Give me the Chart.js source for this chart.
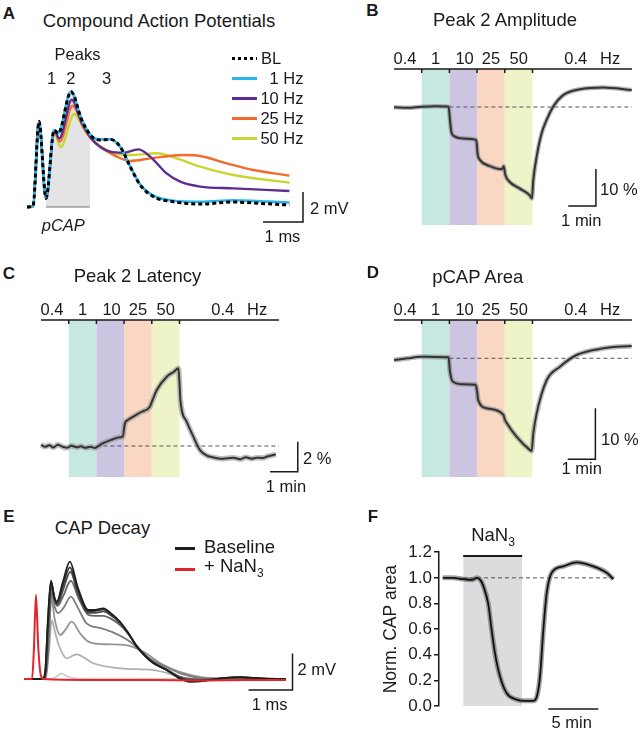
<!DOCTYPE html>
<html>
<head>
<meta charset="utf-8">
<title>CAP figure</title>
<script src="https://cdn.jsdelivr.net/npm/chart.js@4.4.1/dist/chart.umd.min.js"></script>
<style>
  body { margin: 0; background: #fff; }
  #fig { position: relative; width: 640px; height: 733px; overflow: hidden; font-family: "Liberation Sans", Arial, Helvetica, sans-serif; color: #1a1a1a; }
  #fig canvas { position: absolute; }
  .lb { position: absolute; white-space: nowrap; line-height: 1; font-size: 16.5px; }
  .c { transform: translate(-50%, -50%); }
  .l { transform: translate(0, -50%); }
  .r { transform: translate(-100%, -50%); }
  .ttl { font-size: 18.5px; }
  .pl { font-size: 17px; font-weight: bold; }
  .key { position: absolute; height: 3px; }
  sub { font-size: 0.65em; vertical-align: -0.35em; }
</style>
</head>
<body>
<div id="fig"></div>
<script>
// ---- Panel A: compound action potentials (ms, mV)
const capBL   = [[0,0],[0.15,0.05],[0.3,5.7],[0.475,0.58],[0.68,5.13],[0.78,4.91],[1.1,7.69],[1.37,5.8],[1.62,4.69],[1.83,4.47],[2.08,4.51],[2.33,4.02],[2.58,2.69],[2.83,1.47],[3.16,0.69],[3.66,0.35],[4.33,0.2],[5.16,0.33],[5.83,0.24],[6.56,0.13]];
const cap1Hz  = [[0,0],[0.15,0.05],[0.3,5.7],[0.475,0.58],[0.68,5.13],[0.78,4.93],[1.1,7.7],[1.37,5.8],[1.62,4.7],[1.83,4.5],[2.08,4.52],[2.33,4.0],[2.58,2.7],[2.83,1.5],[3.16,0.75],[3.66,0.42],[4.33,0.35],[5.16,0.45],[5.83,0.38],[6.56,0.3]];
const cap10Hz = [[0,0],[0.15,0.05],[0.3,5.7],[0.475,0.58],[0.68,5.1],[0.81,4.58],[1.12,7.15],[1.37,5.6],[1.6,4.6],[1.83,4.0],[2.08,3.69],[2.41,3.62],[2.78,3.84],[3.08,3.36],[3.49,2.24],[3.83,1.69],[4.33,1.36],[5.16,1.24],[6.56,1.07]];
const cap25Hz = [[0,0],[0.15,0.05],[0.3,5.7],[0.475,0.58],[0.68,5.05],[0.82,4.36],[1.14,6.75],[1.4,5.4],[1.6,4.55],[1.83,4.02],[2.24,3.36],[2.58,3.07],[3.08,3.24],[3.91,3.47],[4.33,3.4],[4.99,2.91],[5.66,2.47],[6.56,2.09]];
const cap50Hz = [[0,0],[0.15,0.05],[0.3,5.7],[0.475,0.58],[0.68,5.0],[0.84,3.98],[1.18,6.2],[1.42,5.2],[1.62,4.5],[1.83,4.07],[2.24,3.53],[2.66,3.47],[3.24,3.58],[3.74,3.24],[4.33,2.69],[5.16,2.13],[6.56,1.62]];
const pcapWindow = [0.475, 1.575];
const capLegend = ["BL", "1 Hz", "10 Hz", "25 Hz", "50 Hz"];

// ---- Panels B-D: stimulation protocol (min)
const bandEdges  = [1, 2, 3, 4, 5];
const bandColors = ["#c6e8e1", "#cbc5e1", "#f9d7c3", "#eef3c8"];
const freqText   = ["0.4", "1", "10", "25", "50", "0.4", "Hz"];
const freqPos    = [0.4, 1.5, 2.55, 3.5, 4.5, 6.56, 7.8];

// B: peak 2 amplitude (% of baseline)
const peak2Amp = [[0,99.9],[0.5,99.8],[1,100.1],[1.5,100.2],[1.97,100.1],[2.02,96.5],[2.07,93.3],[2.16,92.2],[2.5,91.5],[2.97,91.1],[3.02,87.2],[3.1,85.7],[3.44,84.1],[3.9,83.2],[3.96,84.0],[4.02,81.6],[4.17,79.8],[4.53,78],[4.89,76.2],[4.98,75.3],[5.03,80.3],[5.15,86.6],[5.33,92.9],[5.51,96.5],[5.75,100.1],[6.11,103.2],[6.71,104.8],[7.56,105.3],[8.58,104.6]];
// C: peak 2 latency (% of baseline)
const peak2Lat = [[0,100.07],[0.15,99.95],[0.3,100.05],[0.45,99.9],[0.6,100.08],[0.78,99.95],[0.93,99.88],[1.1,100.02],[1.3,99.92],[1.45,99.98],[1.6,99.88],[1.8,99.95],[1.94,99.86],[2.15,100.1],[2.37,100.29],[2.6,100.45],[2.85,100.58],[2.95,100.62],[3.03,101.51],[3.15,101.75],[3.33,101.96],[3.6,102.25],[3.93,102.62],[4.03,103.07],[4.18,103.73],[4.54,104.62],[4.8,104.95],[4.96,105.18],[5.0,104.2],[5.03,103.1],[5.26,101.62],[5.5,100.62],[5.74,99.73],[6.0,99.35],[6.22,99.24],[6.5,99.15],[6.94,99.22],[7.2,99.12],[7.4,99.25],[7.6,99.15],[7.79,99.22],[8.0,99.2],[8.2,99.32],[8.48,99.44]];
// D: pCAP area (% of baseline)
const pcapArea = [[0,99.67],[0.5,100.0],[0.94,100.31],[1.5,100.25],[1.97,100.2],[2.02,97.4],[2.13,95.4],[2.5,94.9],[2.95,94.8],[3.0,93.5],[3.04,91.8],[3.35,90.2],[3.95,88.9],[4.0,88.0],[4.07,87.3],[4.43,84.6],[4.91,82.0],[4.97,81.8],[5.03,85.3],[5.15,89.2],[5.51,95.7],[5.99,98.35],[6.59,100.65],[7.56,101.96],[8.58,102.41]];

// ---- Panel E: CAP decay under NaN3 (ms, mV)
const decayNaN = [[-0.02,0],[0.16,0],[0.2,1.5],[0.25,4.6],[0.3,1.8],[0.36,0.2],[0.42,0],[1.5,-0.05],[3,-0.05],[4,-0.08],[5,-0.05],[5.93,-0.05]];
const decay1 = [[-0.02,0],[0.4,0],[0.46,0.4],[0.52,3.2],[0.59,5.37],[0.66,4.55],[0.72,4.22],[0.86,5.3],[1.02,6.41],[1.2,5.0],[1.44,3.77],[1.6,3.78],[1.78,3.86],[1.95,3.6],[2.16,3.13],[2.35,2.5],[2.54,1.77],[2.75,1.2],[2.92,0.86],[3.22,0.49],[3.5,0.05],[3.75,-0.15],[4.1,-0.1],[4.5,0.05],[4.9,0.1],[5.4,0.02],[5.93,0]];
const decay2 = [[-0.02,0],[0.4,0],[0.46,0.4],[0.52,3.1],[0.59,5.3],[0.66,4.45],[0.72,4.15],[0.86,5.1],[1.02,6.1],[1.2,4.85],[1.44,3.7],[1.6,3.72],[1.78,3.8],[1.95,3.55],[2.16,3.1],[2.35,2.5],[2.54,1.8],[2.75,1.22],[2.92,0.88],[3.22,0.5],[3.5,0.08],[3.75,-0.1],[4.1,-0.08],[4.5,0.05],[4.9,0.1],[5.4,0.02],[5.93,0]];
const decay3 = [[-0.02,0],[0.41,0],[0.47,0.4],[0.53,3.0],[0.6,5.25],[0.67,4.35],[0.73,4.08],[0.87,4.9],[1.03,5.86],[1.2,4.7],[1.44,3.62],[1.6,3.62],[1.78,3.7],[1.95,3.48],[2.16,3.05],[2.35,2.48],[2.54,1.8],[2.75,1.25],[2.92,0.9],[3.22,0.5],[3.5,0.1],[3.75,-0.05],[4.1,-0.05],[4.5,0.05],[4.9,0.08],[5.4,0.02],[5.93,0]];
const decay4 = [[-0.02,0],[0.42,0],[0.48,0.4],[0.54,2.9],[0.61,5.1],[0.68,4.25],[0.74,4.0],[0.88,4.6],[1.04,5.37],[1.22,4.4],[1.44,3.5],[1.6,3.45],[1.78,3.45],[1.95,3.3],[2.16,2.95],[2.35,2.45],[2.54,1.8],[2.75,1.28],[2.92,0.92],[3.22,0.52],[3.5,0.15],[3.8,0.0],[4.2,-0.03],[4.6,0.04],[5.0,0.06],[5.93,0]];
const decay5 = [[-0.02,0],[0.45,0],[0.52,1.2],[0.6,4.7],[0.68,3.9],[0.75,3.6],[0.88,3.9],[1.04,4.5],[1.2,3.9],[1.4,3.04],[1.74,2.77],[2.0,2.55],[2.39,2.04],[2.77,1.22],[3.2,0.67],[3.6,0.25],[4.0,0.06],[4.6,0.02],[5.93,0]];
const decay6 = [[-0.02,0],[0.46,0],[0.53,1.5],[0.6,4.4],[0.68,3.2],[0.8,2.4],[0.92,2.7],[1.06,3.13],[1.25,2.5],[1.44,2.04],[1.78,1.9],[2.3,1.85],[2.69,1.49],[3.14,0.77],[3.5,0.4],[4.0,0.1],[4.6,0.02],[5.93,0]];
const decay7 = [[-0.02,0],[0.47,0],[0.54,1.4],[0.61,3.2],[0.68,2.6],[0.76,1.9],[0.95,1.13],[1.17,1.35],[1.55,0.86],[2.16,0.58],[2.92,0.49],[3.2,0.35],[3.6,0.05],[4.2,0],[5.93,0]];
const decay8 = [[-0.02,0],[0.6,0],[0.7,0.1],[0.83,0.31],[0.95,0.15],[1.1,0.05],[1.5,0.02],[5.93,0]];
const decayColors = ["#1e1e1e", "#353535", "#4d4d4d", "#666666", "#7d7d7d", "#959595", "#b0b0b0", "#cdcdcd"];

// ---- Panel F: normalised CAP area (min)
const normArea = [[0,1.0],[1,1.0],[2.07,0.99],[3.0,0.985],[3.4,1.0],[3.8,0.98],[4.06,0.937],[4.56,0.795],[4.9,0.59],[5.23,0.41],[5.73,0.23],[6.4,0.1],[7.4,0.05],[8.2,0.04],[9.06,0.04],[9.4,0.07],[9.73,0.23],[10.06,0.59],[10.4,0.88],[10.9,1.04],[12.06,1.09],[13.4,1.12],[15.06,1.09],[16.4,1.04],[17.06,0.99]];
const nanWindow = [2.05, 7.95];
const normTicks = [0, 0.2, 0.4, 0.6, 0.8, 1.0, 1.2];

const FONT = '"Liberation Sans", Arial, Helvetica, sans-serif';
const fig = document.getElementById("fig");

function addLabel(html, x, y, cls) {
  const d = document.createElement("div");
  d.className = "lb " + cls;
  d.innerHTML = html;
  d.style.left = x + "px";
  d.style.top = y + "px";
  fig.appendChild(d);
  return d;
}
function addKey(x, y, w, bg) {
  const d = document.createElement("div");
  d.className = "key";
  d.style.left = x + "px";
  d.style.top = (y - 1.5) + "px";
  d.style.width = w + "px";
  d.style.background = bg;
  fig.appendChild(d);
}

const pts = arr => arr.map(p => ({ x: p[0], y: p[1] }));
function line(data, color, width, extra) {
  return Object.assign({ data: pts(data), borderColor: color, borderWidth: width, pointRadius: 0, fill: false, cubicInterpolationMode: "monotone" }, extra || {});
}
// value range that a canvas edge maps to, given one reference pixel and px per unit
function rangeX(start, size, refPx, refVal, ppu) { return [refVal + (start - refPx) / ppu, refVal + (start + size - refPx) / ppu]; }
function rangeY(top, size, refPx, refVal, ppu) { return [refVal - (top + size - refPx) / ppu, refVal + (refPx - top) / ppu]; }

// grey area under one dataset's curve, only inside an x window (pCAP)
const areaWindow = {
  id: "areaWindow",
  beforeDatasetsDraw(chart, args, o) {
    if (!o || o.index === undefined) return;
    const { ctx, chartArea, scales: { x, y } } = chart;
    const el = chart.getDatasetMeta(o.index).dataset;
    el.updateControlPoints(chartArea, "x");
    const p = el.points;
    const x0 = x.getPixelForValue(o.window[0]), x1 = x.getPixelForValue(o.window[1]);
    const yb = y.getPixelForValue(0);
    ctx.save();
    ctx.beginPath();
    ctx.rect(x0, 0, x1 - x0, chart.height);
    ctx.clip();
    ctx.beginPath();
    el.path(ctx);
    ctx.lineTo(p[p.length - 1].x, yb);
    ctx.lineTo(p[0].x, yb);
    ctx.closePath();
    ctx.fillStyle = o.color;
    ctx.fill();
    ctx.restore();
  }
};

// coloured frequency bands + the protocol bar on top
const freqBar = {
  id: "freqBar",
  beforeDatasetsDraw(chart, args, o) {
    if (!o || o.top === undefined) return;
    const { ctx, scales: { x, y } } = chart;
    const yt = y.getPixelForValue(o.top), yb = y.getPixelForValue(o.bottom);
    for (let i = 0; i < bandColors.length; i++) {
      const x0 = x.getPixelForValue(bandEdges[i]), x1 = x.getPixelForValue(bandEdges[i + 1]);
      ctx.fillStyle = bandColors[i];
      ctx.fillRect(x0, yt, x1 - x0, yb - yt);
    }
    ctx.save();
    ctx.strokeStyle = "#1a1a1a";
    ctx.lineWidth = 1.5;
    ctx.beginPath();
    ctx.moveTo(x.getPixelForValue(o.from), yt);
    ctx.lineTo(x.getPixelForValue(o.to), yt);
    bandEdges.forEach(e => {
      const px = x.getPixelForValue(e);
      ctx.moveTo(px, yt);
      ctx.lineTo(px, yt + 4);
    });
    ctx.stroke();
    ctx.restore();
  }
};

// L-shaped scale bar, corner at (x, y)
const scaleBar = {
  id: "scaleBar",
  afterDraw(chart, args, o) {
    if (!o || o.x === undefined) return;
    const { ctx, scales: { x, y } } = chart;
    ctx.save();
    ctx.strokeStyle = "#1a1a1a";
    ctx.lineWidth = 1.5;
    ctx.beginPath();
    ctx.moveTo(x.getPixelForValue(o.x - o.dx), y.getPixelForValue(o.y));
    ctx.lineTo(x.getPixelForValue(o.x), y.getPixelForValue(o.y));
    ctx.lineTo(x.getPixelForValue(o.x), y.getPixelForValue(o.y + o.dy));
    ctx.stroke();
    ctx.restore();
  }
};

function makeCanvas(box) {
  const cv = document.createElement("canvas");
  cv.width = box[2];
  cv.height = box[3];
  cv.style.left = box[0] + "px";
  cv.style.top = box[1] + "px";
  cv.style.width = box[2] + "px";
  cv.style.height = box[3] + "px";
  fig.appendChild(cv);
  return cv;
}

function makePanel(box, xs, ys, datasets, plugOpts) {
  const xr = rangeX(box[0], box[2], xs[0], xs[1], xs[2]);
  const yr = rangeY(box[1], box[3], ys[0], ys[1], ys[2]);
  const chart = new Chart(makeCanvas(box), {
    type: "line",
    data: { datasets },
    options: {
      responsive: false, animation: false, events: [],
      layout: { padding: 0 },
      plugins: Object.assign({ legend: { display: false }, tooltip: { enabled: false } }, plugOpts),
      scales: {
        x: { type: "linear", display: false, min: xr[0], max: xr[1] },
        y: { type: "linear", display: false, min: yr[0], max: yr[1] }
      }
    },
    plugins: [areaWindow, freqBar, scaleBar]
  });
  chart.box = box;
  return chart;
}

function protocolLabels(chart, top) {
  const { x, y } = chart.scales;
  const py = chart.box[1] + y.getPixelForValue(top) - 11.5;
  freqText.forEach((s, i) => addLabel(s, chart.box[0] + x.getPixelForValue(freqPos[i]), py, "c"));
}

function timeCourse(box, xs, ys, trace, band, bar, semWidth, semColor) {
  return makePanel(box, xs, ys, [
    line(trace, "#333", 2),
    line(trace, semColor, semWidth),
    line([[2, 100], [8.59, 100]], "#555", 1, { borderDash: [4, 3], cubicInterpolationMode: "default" })
  ], { freqBar: Object.assign({ from: 0, to: 8.59 }, band), scaleBar: bar });
}

// ---------------- Panel A
const colA = { bl: "#000", hz1: "#2cb5e8", hz10: "#5c2d91", hz25: "#f26b2b", hz50: "#c9d631" };
makePanel([20, 40, 290, 195], [27, 0, 40], [207, 0, 15], [
  line(capBL, colA.bl, 3, { borderDash: [4, 3] }),
  line(cap1Hz, colA.hz1, 2.6),
  line(cap10Hz, colA.hz10, 2.4),
  line(cap25Hz, colA.hz25, 2.4),
  line(cap50Hz, colA.hz50, 2.4),
  line([[pcapWindow[0], 0], [pcapWindow[1], 0]], "#777", 1.2, { cubicInterpolationMode: "default" })
], { scaleBar: { x: 6.9, y: -1, dx: 1, dy: 2 }, areaWindow: { index: 0, window: pcapWindow, color: "#e4e4e6" } });

addLabel("A", 9, 12.5, "c pl");
addLabel("Compound Action Potentials", 159, 21, "c ttl");
addLabel("Peaks", 77.5, 54, "c");
addLabel("1", 51.7, 77.5, "c");
addLabel("2", 70.8, 77.5, "c");
addLabel("3", 106.7, 77.5, "c");
const keyY = [58, 78, 98, 118, 138];
const keyBg = ["repeating-linear-gradient(90deg,#000 0 3.5px,transparent 3.5px 6px)", colA.hz1, colA.hz10, colA.hz25, colA.hz50];
capLegend.forEach((s, i) => {
  addKey(232, keyY[i], 25, keyBg[i]);
  if (i === 0) addLabel(s, 261, keyY[i], "l");
  else addLabel(s, 303.5, keyY[i], "r");
});
addLabel("<i>pCAP</i>", 63.3, 225, "c");
addLabel("2 mV", 310, 208, "l");
addLabel("1 ms", 282.5, 236, "c");

// ---------------- Panel B
const chB = timeCourse([390, 60, 245, 170], [394, 0, 27.7], [107, 100, 3.7], peak2Amp,
  { top: 110.27, bottom: 68.1 }, { x: 7.29, y: 73.24, dx: 1, dy: 10 }, 4.5, "rgba(130,130,130,0.6)");
protocolLabels(chB, 110.27);
addLabel("B", 372.5, 9.5, "c pl");
addLabel("Peak 2 Amplitude", 505, 20, "c ttl");
addLabel("10 %", 600, 189, "l");
addLabel("1 min", 581.3, 220, "c");

// ---------------- Panel C
const chC = timeCourse([35, 300, 275, 185], [41, 0, 27.7], [446, 100, 15], peak2Lat,
  { top: 108.4, bottom: 97.93 }, { x: 9.27, y: 98.29, dx: 1, dy: 2 }, 5.5, "rgba(140,140,140,0.55)");
protocolLabels(chC, 108.4);
addLabel("C", 9, 272.5, "c pl");
addLabel("Peak 2 Latency", 137.5, 276, "c ttl");
addLabel("2 %", 303, 458, "l");
addLabel("1 min", 286, 486, "c");

// ---------------- Panel D
const chD = timeCourse([390, 300, 245, 185], [394, 0, 27.7], [358.3, 100, 5.1], pcapArea,
  { top: 107.5, bottom: 76.73 }, { x: 7.27, y: 80.2, dx: 1, dy: 10 }, 5, "rgba(130,130,130,0.55)");
protocolLabels(chD, 107.5);
addLabel("D", 373, 272, "c pl");
addLabel("pCAP Area", 477.8, 277, "c ttl");
addLabel("10 %", 601, 439, "l");
addLabel("1 min", 581.7, 468, "c");

// ---------------- Panel E
const decayTraces = [decay1, decay2, decay3, decay4, decay5, decay6, decay7, decay8];
makePanel([18, 540, 285, 160], [25, 0, 44], [679, 0, 18.3], [
  line(decayNaN, "#e0262c", 2)
].concat(decayTraces.map((d, i) => line(d, decayColors[i], 1.8))),
  { scaleBar: { x: 6.08, y: -0.6, dx: 1, dy: 2 } });
addLabel("E", 9, 516, "c pl");
addLabel("CAP Decay", 102.5, 528, "c ttl");
addKey(175, 548.3, 20, "#1e1e1e");
addKey(175, 569.3, 20, "#e0262c");
addLabel("Baseline", 204, 546.7, "l ttl");
addLabel("+ NaN<sub>3</sub>", 204, 568, "l ttl");
addLabel("2 mV", 297.5, 669, "l");
addLabel("1 ms", 269.7, 704, "c");

// ---------------- Panel F
const fBox = [360, 540, 265, 180];
new Chart(makeCanvas(fBox), {
  type: "line",
  data: {
    datasets: [
      line(normArea, "#111", 1.8),
      line(normArea, "rgba(120,120,120,0.7)", 5),
      line([[2.03, 1], [17.2, 1]], "#555", 1, { borderDash: [4, 3], cubicInterpolationMode: "default" }),
      { data: pts([[nanWindow[0], 1.17], [nanWindow[1], 1.17]]), borderColor: "#1a1a1a", borderWidth: 2, backgroundColor: "#dcdcdf", fill: "origin", pointRadius: 0 }
    ]
  },
  options: {
    responsive: false, animation: false, events: [],
    layout: { padding: { top: 11, bottom: 14, left: 0, right: 0 } },
    plugins: { legend: { display: false }, tooltip: { enabled: false }, scaleBar: { x: 15.56, y: -0.023, dx: 5, dy: 0 } },
    scales: {
      x: { type: "linear", display: false, min: -0.37, max: 18.23 },
      y: {
        type: "linear", min: 0, max: 1.2,
        afterBuildTicks: s => { s.ticks = normTicks.map(v => ({ value: v })); },
        afterFit: s => { s.width = 79; },
        border: { display: true, color: "#1a1a1a", width: 1.5 },
        grid: { drawOnChartArea: false, color: "#1a1a1a", lineWidth: 1.5, tickLength: 5 },
        ticks: { color: "#1a1a1a", padding: 2, font: { family: FONT, size: 17 }, callback: v => v.toFixed(1) },
        title: { display: true, text: "Norm. CAP area", color: "#1a1a1a", font: { family: FONT, size: 17.5 }, padding: { top: 21, bottom: 0 } }
      }
    }
  },
  plugins: [scaleBar]
});
addLabel("F", 373, 516, "c pl");
addLabel("NaN<sub>3</sub>", 493, 537, "c ttl");
addLabel("5 min", 571.7, 722, "c");
</script>
</body>
</html>
